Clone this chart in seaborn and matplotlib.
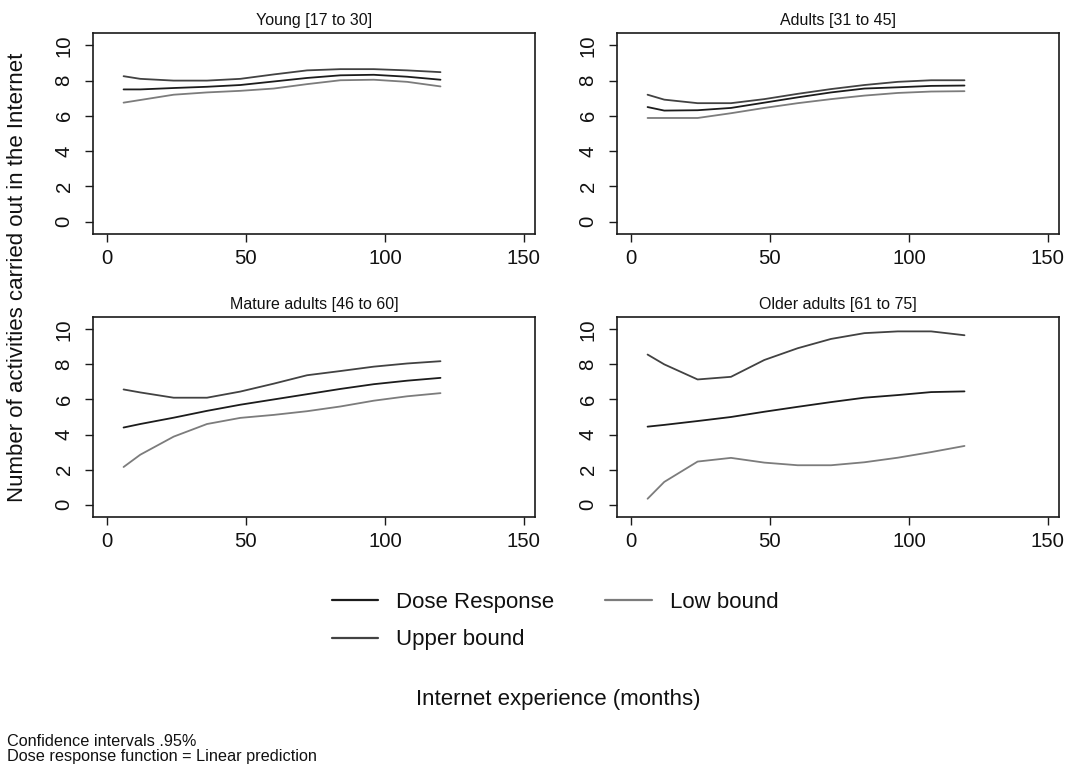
import matplotlib
matplotlib.use("Agg")
import matplotlib.pyplot as plt
from matplotlib.lines import Line2D
import seaborn as sns
import pandas as pd

# ---------------- data ----------------
months = [6, 12, 24, 36, 48, 60, 72, 84, 96, 108, 120]

panel_titles = ["Young [17 to 30]", "Adults [31 to 45]",
                "Mature adults [46 to 60]", "Older adults [61 to 75]"]

young_dose = [7.50, 7.50, 7.58, 7.65, 7.75, 7.95, 8.15, 8.30, 8.33, 8.22, 8.05]
young_upper = [8.25, 8.10, 8.00, 8.00, 8.10, 8.35, 8.58, 8.65, 8.65, 8.58, 8.48]
young_low = [6.75, 6.90, 7.20, 7.33, 7.42, 7.55, 7.80, 8.02, 8.05, 7.93, 7.67]

adults_dose = [6.50, 6.30, 6.32, 6.45, 6.75, 7.05, 7.33, 7.55, 7.62, 7.70, 7.72]
adults_upper = [7.20, 6.92, 6.72, 6.72, 6.95, 7.25, 7.52, 7.75, 7.93, 8.02, 8.02]
adults_low = [5.88, 5.88, 5.88, 6.15, 6.45, 6.72, 6.95, 7.15, 7.30, 7.38, 7.40]

mature_dose = [4.40, 4.60, 4.96, 5.35, 5.70, 6.00, 6.30, 6.60, 6.87, 7.07, 7.23]
mature_upper = [6.57, 6.40, 6.10, 6.10, 6.45, 6.90, 7.38, 7.62, 7.87, 8.05, 8.18]
mature_low = [2.15, 2.85, 3.88, 4.60, 4.95, 5.12, 5.33, 5.60, 5.93, 6.18, 6.36]

older_dose = [4.45, 4.55, 4.77, 5.00, 5.30, 5.58, 5.85, 6.10, 6.25, 6.42, 6.46]
older_upper = [8.56, 8.00, 7.14, 7.29, 8.25, 8.92, 9.45, 9.78, 9.88, 9.88, 9.66]
older_low = [0.34, 1.30, 2.46, 2.67, 2.40, 2.25, 2.25, 2.42, 2.68, 3.00, 3.35]

series_names = ["Dose Response", "Upper bound", "Low bound"]
series_colors = {"Dose Response": "#1c1c1c", "Upper bound": "#424242", "Low bound": "#7c7c7c"}

panels = [
    (young_dose, young_upper, young_low),
    (adults_dose, adults_upper, adults_low),
    (mature_dose, mature_upper, mature_low),
    (older_dose, older_upper, older_low),
]

x_ticks = [0, 50, 100, 150]
y_ticks = [0, 2, 4, 6, 8, 10]

# ---------------- style ----------------
sns.set_style("white")
plt.rcParams["font.family"] = ["Liberation Sans", "DejaVu Sans"]
ink = "#111111"
plt.rcParams["text.color"] = ink
plt.rcParams["axes.labelcolor"] = ink
plt.rcParams["xtick.color"] = ink
plt.rcParams["ytick.color"] = ink
plt.rcParams["axes.titlecolor"] = ink

fig = plt.figure(figsize=(10.68, 7.65), dpi=100)
W, H = 1068, 765
boxes = [(93, 33, 535, 234), (617, 33, 1059, 234),
         (93, 317, 535, 517), (617, 317, 1059, 517)]

for (x0, y0, x1, y1), title, vals in zip(boxes, panel_titles, panels):
    ax = fig.add_axes([x0 / W, 1 - y1 / H, (x1 - x0) / W, (y1 - y0) / H])
    rows = []
    for name, v in zip(series_names, vals):
        for m, val in zip(months, v):
            rows.append({"months": m, "value": val, "series": name})
    df = pd.DataFrame(rows)
    sns.lineplot(data=df, x="months", y="value", hue="series",
                 hue_order=series_names, palette=series_colors,
                 linewidth=1.3, legend=False, ax=ax)
    ax.set_xlim(-5, 154)
    ax.set_ylim(-0.7, 10.7)
    ax.set_xticks(x_ticks)
    ax.set_yticks(y_ticks)
    ax.set_xlabel("")
    ax.set_ylabel("")
    ax.set_title(title, fontsize=11.5, pad=6)
    for sp in ax.spines.values():
        sp.set_visible(True)
        sp.set_color("#1a1a1a")
        sp.set_linewidth(1.2)
    ax.tick_params(axis="both", direction="out", length=6, width=1.0,
                   color="#1a1a1a", labelsize=14.7, bottom=True, left=True)
    ax.tick_params(axis="x", pad=5)
    ax.tick_params(axis="y", pad=8)
    for lab in ax.get_yticklabels():
        lab.set_rotation(90)
        lab.set_va("center")

# y label
fig.text(18 / W, 1 - 277 / H, "Number of activities carried out in the Internet",
         rotation=90, ha="center", va="center", fontsize=16)

# legend
handles = [Line2D([0], [0], color=series_colors[n], linewidth=1.6) for n in series_names]
fig.legend(handles, series_names, loc="center", bbox_to_anchor=(555 / W, 1 - 621 / H),
           ncol=2, frameon=False, fontsize=16, handlelength=2.1, handletextpad=0.8,
           columnspacing=2.3, labelspacing=0.75)

# x label
fig.text(558 / W, 1 - 700 / H, "Internet experience (months)",
         ha="center", va="center", fontsize=16)

# notes
fig.text(7 / W, 1 - 742 / H, "Confidence intervals .95%", ha="left", va="center", fontsize=11.7)
fig.text(7 / W, 1 - 757 / H, "Dose response function = Linear prediction",
         ha="left", va="center", fontsize=11.7)

fig.savefig("out.png", dpi=100, facecolor="white")
